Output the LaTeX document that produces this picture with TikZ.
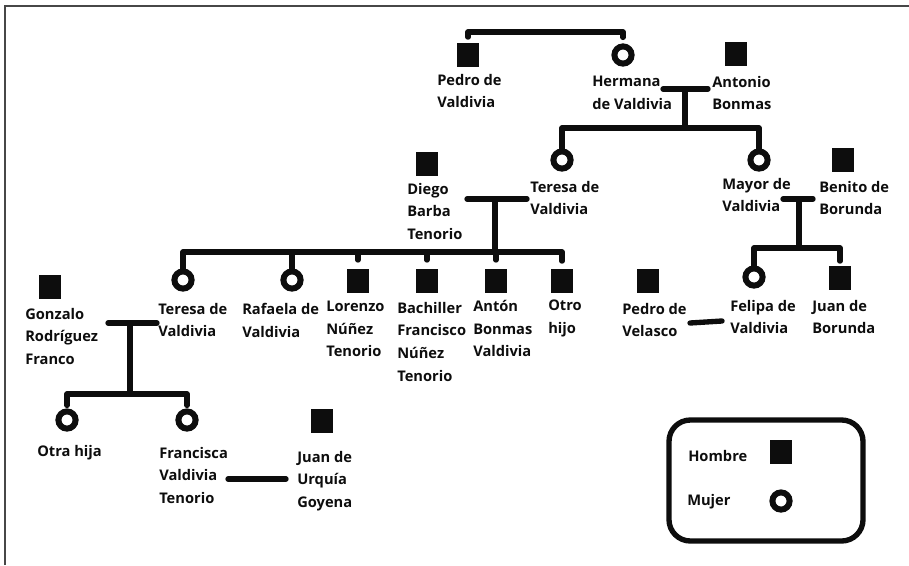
\documentclass[tikz,border=0pt]{standalone}
\usepackage{fontspec}
\setmainfont{Open Sans}
\usetikzlibrary{calc}

\tikzset{
  male/.style={rectangle, fill=black!95, minimum width=16pt, minimum height=17.5pt, inner sep=0pt},
  female/.style={circle, draw=black!95, line width=4.5pt, minimum size=12.9pt, inner sep=0pt},
  lbl/.style={anchor=north west, inner sep=0pt, align=left, text=black!95,
              font=\fontsize{11pt}{16.9pt}\selectfont\bfseries},
  link/.style={line width=4pt, line cap=round, line join=round, draw=black!95},
  frame/.style={draw=black!72, line width=1.5pt},
}

\begin{document}
\begin{tikzpicture}[x=0.75pt, y=-0.75pt]
\useasboundingbox (0,0) rectangle (909,565);

% outer frame (top and left edges only)
\draw[frame] (5,565) -- (5,5.5) -- (909,5.5);

% ---------- generation 1 ----------
\node[male]   (pedro)   at (468,55) {};
\node[female] (hermana) at (623,55) {};
\node[male]   (antonio) at (736,54) {};
\node[lbl] at (437,74) {Pedro de\\Valdivia};
\node[lbl] at (592,76) {Hermana\\de Valdivia};
\node[lbl] at (712,76) {Antonio\\Bonmas};

% ---------- generation 2 ----------
\node[male]   (diego)  at (427,164) {};
\node[female] (teresa) at (562,160) {};
\node[female] (mayor)  at (759,160) {};
\node[male]   (benito) at (843,160) {};
\node[lbl] at (407,183) {Diego\\Barba\\Tenorio};
\node[lbl] at (530,181) {Teresa de\\Valdivia};
\node[lbl] at (722,178) {Mayor de\\Valdivia};
\node[lbl] at (819,181) {Benito de\\Borunda};

% ---------- generation 3 ----------
\node[male]   (gonzalo)   at (50,287)  {};
\node[female] (teresab)   at (183,280) {};
\node[female] (rafaela)   at (292,280) {};
\node[male]   (lorenzo)   at (358,281) {};
\node[male]   (bachiller) at (427,281) {};
\node[male]   (anton)     at (496,281) {};
\node[male]   (otro)      at (562,281) {};
\node[male]   (pedrov)    at (648,281) {};
\node[female] (felipa)    at (754,277) {};
\node[male]   (juanb)     at (840,278) {};
\node[lbl] at (25,308)  {Gonzalo\\Rodríguez\\Franco};
\node[lbl] at (158,303) {Teresa de\\Valdivia};
\node[lbl] at (242,303) {Rafaela de\\Valdivia};
\node[lbl] at (326,301) {Lorenzo\\Núñez\\Tenorio};
\node[lbl] at (397,302) {Bachiller\\Francisco\\Núñez\\Tenorio};
\node[lbl] at (473,300) {Antón\\Bonmas\\Valdivia};
\node[lbl] at (548,300) {Otro\\hijo};
\node[lbl] at (622,303) {Pedro de\\Velasco};
\node[lbl] at (730,300) {Felipa de\\Valdivia};
\node[lbl] at (812,300) {Juan de\\Borunda};

% ---------- generation 4 ----------
\node[female] (otra)      at (67,420)  {};
\node[female] (francisca) at (187,420) {};
\node[male]   (juanu)     at (322,421) {};
\node[lbl] at (37,445)  {Otra hija};
\node[lbl] at (159,447) {Francisca\\Valdivia\\Tenorio};
\node[lbl] at (297,451) {Juan de\\Urquía\\Goyena};

% ---------- junction points ----------
\coordinate (top)  at (545,32);
\coordinate (c1l)  at (663,89);  \coordinate (c1r) at (708,89);  \coordinate (c1) at (685,89);
\coordinate (s1)   at (685,128);
\coordinate (c2l)  at (467,199); \coordinate (c2r) at (527,199); \coordinate (c2) at (495,199);
\coordinate (s2)   at (495,252);
\coordinate (c3l)  at (783,199); \coordinate (c3r) at (813,199); \coordinate (c3) at (799,199);
\coordinate (s3)   at (799,248);
\coordinate (c4l)  at (108,323); \coordinate (c4r) at (157,323); \coordinate (c4) at (130,323);
\coordinate (s4)   at (130,394);
\coordinate (c5l)  at (690,323); \coordinate (c5r) at (722,321);
\coordinate (c6l)  at (228,479); \coordinate (c6r) at (286,479);

% ---------- connectors ----------
% siblings Pedro / Hermana
\draw[link] ($(pedro.north)+(0,-6)$) |- (top) -| ($(hermana.north)+(0,-6)$);

% Hermana + Antonio and their daughters
\draw[link] (c1l) -- (c1r);
\draw[link] (c1) -- (s1);
\draw[link] (teresa.north) |- (s1) -| (mayor.north);

% Diego + Teresa and their children
\draw[link] (c2l) -- (c2r);
\draw[link] (c2) -- (s2);
\draw[link] (teresab.north) |- (s2) -| ($(otro.north)+(0,-8)$);
\draw[link] (rafaela.north) -- (rafaela.north |- s2);
\draw[link] (lorenzo.north |- s2) -- ++(0,8);
\draw[link] (bachiller.north |- s2) -- ++(0,8);
\draw[link] (anton.north |- s2) -- ++(0,8);

% Mayor + Benito and their children
\draw[link] (c3l) -- (c3r);
\draw[link] (c3) -- (s3);
\draw[link] (felipa.north) |- (s3) -| ($(juanb.north)+(0,-5)$);

% Gonzalo + Teresa and their daughters
\draw[link] (c4l) -- (c4r);
\draw[link] (c4) -- (s4);
\draw[link] ($(otra.north)+(0,-3)$) |- (s4) -| ($(francisca.north)+(0,-3)$);

% Pedro de Velasco + Felipa
\draw[link] (c5l) -- (c5r);
% Francisca + Juan de Urquía
\draw[link] (c6l) -- (c6r);

% ---------- legend ----------
\draw[draw=black!95, line width=4pt, rounded corners=16pt] (669,420) rectangle (863,541);
\node[lbl] at (688,450) {Hombre};
\node[lbl] at (687,494) {Mujer};
\node[male]   (keym) at (781,452) {};
\node[female] (keyf) at (781,501) {};
\end{tikzpicture}
\end{document}
